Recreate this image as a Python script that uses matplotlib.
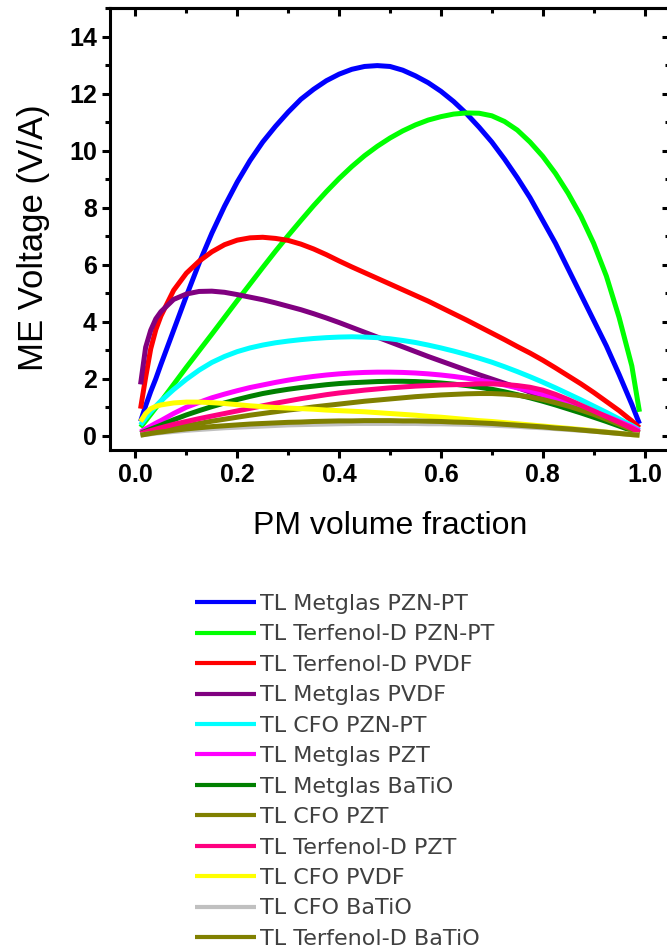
import matplotlib
matplotlib.use("Agg")
import matplotlib.pyplot as plt
from matplotlib.ticker import MultipleLocator

# ---- data ----
pm_fraction = [0.01, 0.02, 0.03, 0.04, 0.05, 0.075, 0.1, 0.125, 0.15, 0.175, 0.2, 0.225,
               0.25, 0.275, 0.3, 0.325, 0.35, 0.375, 0.4, 0.425, 0.45, 0.475, 0.5, 0.525,
               0.55, 0.575, 0.6, 0.625, 0.65, 0.675, 0.7, 0.725, 0.75, 0.775, 0.8, 0.825,
               0.85, 0.875, 0.9, 0.925, 0.95, 0.975, 0.99]

labels = ["TL Metglas PZN-PT", "TL Terfenol-D PZN-PT", "TL Terfenol-D PVDF",
          "TL Metglas PVDF", "TL CFO PZN-PT", "TL Metglas PZT", "TL Metglas BaTiO",
          "TL CFO PZT", "TL Terfenol-D PZT", "TL CFO PVDF", "TL CFO BaTiO",
          "TL Terfenol-D BaTiO"]

metglas_pznpt = [0.5, 1.05, 1.55, 2.0, 2.5, 3.7, 4.9, 6.05, 7.1, 8.05, 8.9, 9.65,
                 10.3, 10.85, 11.35, 11.8, 12.15, 12.45, 12.68, 12.85, 12.95, 12.98, 12.95, 12.82,
                 12.62, 12.38, 12.08, 11.72, 11.3, 10.82, 10.3, 9.7, 9.05, 8.35, 7.55, 6.75,
                 5.85, 4.95, 4.05, 3.15, 2.15, 1.1, 0.42]
terfenol_pznpt = [0.3, 0.52, 0.75, 0.98, 1.2, 1.8, 2.4, 2.98, 3.56, 4.15, 4.74, 5.32,
                  5.9, 6.47, 7.02, 7.55, 8.07, 8.56, 9.02, 9.44, 9.82, 10.15, 10.44, 10.69,
                  10.9, 11.07, 11.19, 11.28, 11.32, 11.31, 11.22, 11.02, 10.72, 10.3, 9.8, 9.2,
                  8.5, 7.7, 6.75, 5.6, 4.15, 2.45, 0.84]
terfenol_pvdf = [0.95, 2.05, 3.05, 3.72, 4.2, 5.1, 5.7, 6.12, 6.45, 6.7, 6.86, 6.94,
                 6.96, 6.92, 6.85, 6.72, 6.55, 6.35, 6.13, 5.92, 5.72, 5.52, 5.32, 5.12,
                 4.92, 4.72, 4.5, 4.28, 4.06, 3.83, 3.6, 3.37, 3.13, 2.9, 2.65, 2.38,
                 2.1, 1.82, 1.52, 1.2, 0.88, 0.52, 0.28]
metglas_pvdf = [1.8, 3.1, 3.7, 4.1, 4.35, 4.78, 4.97, 5.06, 5.07, 5.03, 4.95, 4.86,
                4.77, 4.66, 4.54, 4.42, 4.28, 4.13, 3.97, 3.8, 3.63, 3.46, 3.29, 3.12,
                2.95, 2.78, 2.62, 2.46, 2.3, 2.14, 1.99, 1.84, 1.69, 1.53, 1.37, 1.2,
                1.03, 0.86, 0.7, 0.54, 0.37, 0.21, 0.12]
cfo_pznpt = [0.38, 0.62, 0.84, 1.04, 1.22, 1.62, 1.98, 2.3, 2.57, 2.78, 2.95, 3.08,
             3.18, 3.26, 3.32, 3.37, 3.41, 3.44, 3.46, 3.47, 3.46, 3.44, 3.4, 3.34,
             3.27, 3.18, 3.08, 2.97, 2.85, 2.72, 2.58, 2.42, 2.25, 2.07, 1.88, 1.68,
             1.47, 1.26, 1.04, 0.82, 0.59, 0.36, 0.2]
metglas_pzt = [0.13, 0.24, 0.34, 0.44, 0.53, 0.78, 1.0, 1.17, 1.33, 1.46, 1.58, 1.69,
               1.78, 1.87, 1.95, 2.02, 2.08, 2.13, 2.17, 2.2, 2.22, 2.23, 2.23, 2.22,
               2.2, 2.17, 2.13, 2.08, 2.02, 1.95, 1.87, 1.78, 1.68, 1.57, 1.44, 1.3,
               1.16, 1.01, 0.85, 0.68, 0.5, 0.31, 0.17]
metglas_batio = [0.08, 0.16, 0.23, 0.3, 0.37, 0.56, 0.73, 0.88, 1.02, 1.15, 1.27, 1.38,
                 1.48, 1.56, 1.63, 1.69, 1.74, 1.79, 1.83, 1.86, 1.88, 1.9, 1.91, 1.91,
                 1.9, 1.88, 1.85, 1.81, 1.76, 1.7, 1.63, 1.54, 1.44, 1.33, 1.21, 1.08,
                 0.94, 0.8, 0.65, 0.5, 0.34, 0.18, 0.08]
cfo_pzt = [0.04, 0.08, 0.11, 0.15, 0.18, 0.27, 0.35, 0.43, 0.51, 0.58, 0.65, 0.72,
           0.78, 0.84, 0.9, 0.95, 1.01, 1.06, 1.11, 1.16, 1.21, 1.25, 1.29, 1.33,
           1.37, 1.4, 1.43, 1.45, 1.47, 1.48, 1.48, 1.46, 1.42, 1.36, 1.27, 1.16,
           1.04, 0.9, 0.75, 0.58, 0.4, 0.21, 0.1]
terfenol_pzt = [0.07, 0.13, 0.18, 0.23, 0.28, 0.4, 0.5, 0.6, 0.69, 0.78, 0.87, 0.96,
                1.05, 1.14, 1.22, 1.3, 1.37, 1.44, 1.5, 1.55, 1.6, 1.64, 1.68, 1.71,
                1.74, 1.76, 1.78, 1.79, 1.8, 1.82, 1.82, 1.8, 1.76, 1.7, 1.6, 1.45,
                1.27, 1.07, 0.87, 0.67, 0.47, 0.26, 0.12]
cfo_pvdf = [0.5, 0.78, 0.95, 1.03, 1.08, 1.15, 1.18, 1.18, 1.16, 1.13, 1.09, 1.05,
            1.02, 0.99, 0.97, 0.95, 0.93, 0.9, 0.88, 0.86, 0.84, 0.81, 0.78, 0.75,
            0.72, 0.68, 0.65, 0.61, 0.57, 0.53, 0.5, 0.46, 0.42, 0.38, 0.34, 0.3,
            0.26, 0.22, 0.18, 0.13, 0.09, 0.04, 0.02]
cfo_batio = [0.02, 0.05, 0.07, 0.09, 0.11, 0.15, 0.19, 0.22, 0.25, 0.28, 0.3, 0.32,
             0.34, 0.36, 0.38, 0.39, 0.4, 0.41, 0.42, 0.43, 0.43, 0.43, 0.43, 0.43,
             0.43, 0.42, 0.42, 0.41, 0.4, 0.39, 0.37, 0.35, 0.33, 0.3, 0.28, 0.25,
             0.22, 0.19, 0.16, 0.12, 0.08, 0.04, 0.02]
terfenol_batio = [0.02, 0.05, 0.08, 0.11, 0.13, 0.19, 0.24, 0.28, 0.32, 0.35, 0.38, 0.41,
                  0.43, 0.45, 0.47, 0.48, 0.5, 0.51, 0.52, 0.52, 0.53, 0.53, 0.53, 0.52,
                  0.52, 0.51, 0.5, 0.48, 0.47, 0.45, 0.43, 0.4, 0.37, 0.34, 0.31, 0.27,
                  0.24, 0.2, 0.16, 0.12, 0.08, 0.04, 0.02]

series = [metglas_pznpt, terfenol_pznpt, terfenol_pvdf, metglas_pvdf, cfo_pznpt,
          metglas_pzt, metglas_batio, cfo_pzt, terfenol_pzt, cfo_pvdf, cfo_batio,
          terfenol_batio]
colors = ["#0000FF", "#00FF00", "#FF0000", "#800080", "#00FFFF", "#FF00FF",
          "#008000", "#808000", "#FF0080", "#FFFF00", "#C0C0C0", "#808000"]

xticks = [0.0, 0.2, 0.4, 0.6, 0.8, 1.0]
yticks = [0, 2, 4, 6, 8, 10, 12, 14]

# ---- figure ----
fig = plt.figure(figsize=(6.67, 9.51), dpi=100)
ax = fig.add_axes([110 / 667, 1 - 450 / 951, 560 / 667, 442 / 951])

handles = []
for y, c, lab in zip(series, colors, labels):
    h, = ax.plot(pm_fraction, y, color=c, lw=3.6, solid_capstyle="butt",
                 solid_joinstyle="round", label=lab)
    handles.append(h)

ax.set_xlim(-0.05, 1.05)
ax.set_ylim(-0.5, 15)
ax.set_xticks(xticks)
ax.set_xticklabels([f"{v:.1f}" for v in xticks])
ax.set_yticks(yticks)
ax.set_yticklabels([str(v) for v in yticks])
ax.xaxis.set_minor_locator(MultipleLocator(0.1))
ax.yaxis.set_minor_locator(MultipleLocator(1))

for s in ax.spines.values():
    s.set_linewidth(2.2)

ax.tick_params(axis="both", which="major", length=6, width=2.2, direction="out",
               labelsize=18, pad=3.5)
ax.tick_params(axis="both", which="minor", length=3.5, width=2.2, direction="out")
# top/right ticks (inward, no labels)
axt = ax.secondary_xaxis("top")
axt.set_xticks(xticks)
axt.set_xticklabels([])
axt.xaxis.set_minor_locator(MultipleLocator(0.1))
axt.tick_params(which="major", direction="in", length=6, width=2.2)
axt.tick_params(which="minor", direction="in", length=3.5, width=2.2)
axt.spines["top"].set_linewidth(2.2)
axr = ax.secondary_yaxis("right")
axr.set_yticks(yticks)
axr.set_yticklabels([])
axr.yaxis.set_minor_locator(MultipleLocator(1))
axr.tick_params(which="major", direction="in", length=6, width=2.2)
axr.tick_params(which="minor", direction="in", length=3.5, width=2.2)
axr.spines["right"].set_linewidth(2.2)

for lab in ax.get_xticklabels() + ax.get_yticklabels():
    lab.set_fontfamily(["Liberation Sans", "DejaVu Sans"])
    lab.set_fontweight("bold")

fam = ["Liberation Sans", "DejaVu Sans"]
ax.set_xlabel("PM volume fraction", family=fam, size=23)
ax.set_ylabel("ME Voltage (V/A)", family=fam, size=25)
ax.xaxis.set_label_coords(0.5, -0.137)
ax.yaxis.set_label_coords(-0.107, 0.48)

leg = fig.legend(handles=handles, labels=labels, loc="upper left",
                 bbox_to_anchor=(195 / 667, 1 - 594 / 951), frameon=False,
                 borderpad=0, borderaxespad=0, handlelength=2.75, handletextpad=0.18,
                 labelspacing=0.47, prop=dict(family="DejaVu Sans", size=16))
for t in leg.get_texts():
    t.set_color("#404040")
for lh in leg.get_lines():
    lh.set_linewidth(3.0)

fig.savefig("out.png", dpi=100)
